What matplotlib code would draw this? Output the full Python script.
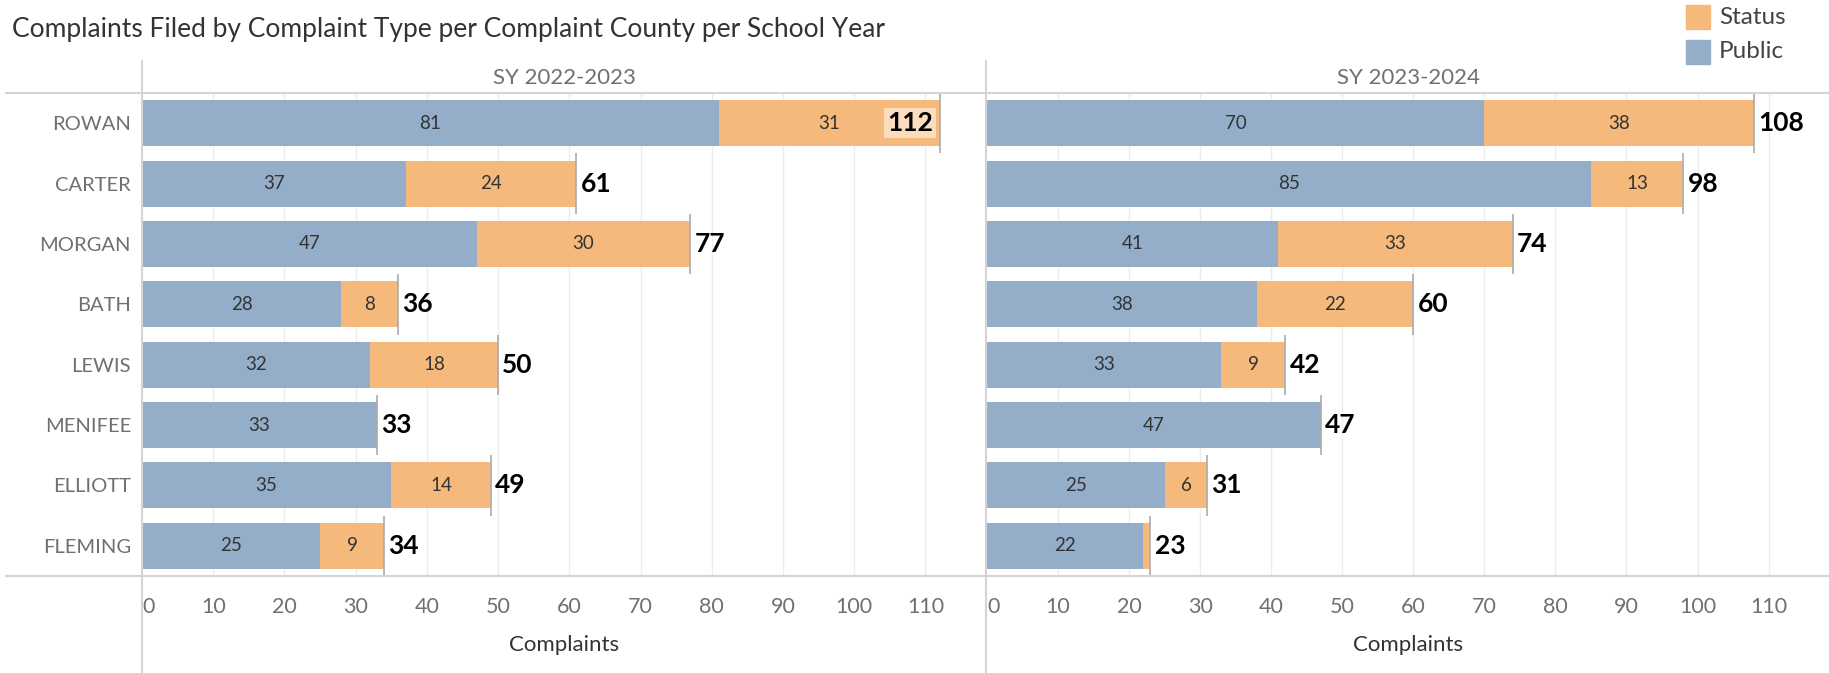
import matplotlib
matplotlib.use("Agg")
import matplotlib.pyplot as plt
import numpy as np
from matplotlib.lines import Line2D

plt.rcParams['font.family'] = ['Lato', 'DejaVu Sans']

# data
counties = ['ROWAN', 'CARTER', 'MORGAN', 'BATH', 'LEWIS', 'MENIFEE', 'ELLIOTT', 'FLEMING']
years = ['SY 2022-2023', 'SY 2023-2024']
public_2223 = [81, 37, 47, 28, 32, 33, 35, 25]
status_2223 = [31, 24, 30, 8, 18, 0, 14, 9]
public_2324 = [70, 85, 41, 38, 33, 47, 25, 22]
status_2324 = [38, 13, 33, 22, 9, 0, 6, 1]

blue = '#94aeca'
orange = '#f5b97b'
line_col = '#d4d4d4'
grid_col = '#ececec'
txt_gray = '#707070'

W, H = 1829, 673
fig = plt.figure(figsize=(W / 100, H / 100), dpi=100)

def fx(px):
    return px / W

def fy(py):
    return 1 - py / H

top, bottom = 93, 576
panels = [(142, 986), (987, 1829)]
xmax = 118.5
bar_h = 0.76

data = [(public_2223, status_2223), (public_2324, status_2324)]
y = np.arange(len(counties))

for k, ((x0, x1), (pub, sta)) in enumerate(zip(panels, data)):
    ax = fig.add_axes([fx(x0), fy(bottom), fx(x1 - x0), fy(top) - fy(bottom)])
    pub = np.array(pub)
    sta = np.array(sta)
    tot = pub + sta

    for g in range(10, 120, 10):
        ax.axvline(g, color=grid_col, lw=1, zorder=0)

    ax.barh(y, pub, height=bar_h, color=blue, zorder=2)
    ax.barh(y, sta, left=pub, height=bar_h, color=orange, zorder=2)
    ax.vlines(tot, y - 0.5, y + 0.5, color='#aaaaaa', lw=1.2, zorder=3)

    for i in range(len(counties)):
        ax.text(pub[i] / 2, y[i], str(pub[i]), ha='center', va='center',
                fontsize=13.5, color='#333333', zorder=4)
        if sta[i] >= 3:
            ax.text(pub[i] + sta[i] / 2, y[i], str(sta[i]), ha='center', va='center',
                    fontsize=13.5, color='#333333', zorder=4)
        if tot[i] > 110:
            ax.annotate(str(tot[i]), (tot[i], y[i]), xytext=(-5, 0), textcoords='offset points',
                        ha='right', va='center', fontsize=19, fontweight='bold', color='black',
                        bbox=dict(boxstyle='square,pad=0.12', fc='#fbdcbf', ec='none'), zorder=5)
        else:
            ax.annotate(str(tot[i]), (tot[i], y[i]), xytext=(3, 0), textcoords='offset points',
                        ha='left', va='center', fontsize=19, fontweight='bold', color='black', zorder=5)

    ax.set_xlim(0, xmax)
    ax.set_ylim(len(counties) - 0.5, -0.5)
    ax.set_xticks(range(0, 120, 10))
    ax.tick_params(axis='x', length=0, pad=15, labelsize=15.5, labelcolor=txt_gray)
    ax.get_xticklabels()[0].set_horizontalalignment('left')
    if k == 0:
        ax.set_yticks(y)
        ax.set_yticklabels(counties)
        ax.tick_params(axis='y', length=0, pad=8, labelsize=14.5, labelcolor=txt_gray)
    else:
        ax.set_yticks([])
    for s in ax.spines.values():
        s.set_visible(False)
    ax.set_xlabel('Complaints', fontsize=16, color='#333333', labelpad=13)

    fig.text(fx((x0 + x1) / 2), fy(78), years[k], ha='center', va='center',
             fontsize=16, color=txt_gray)

# frame lines
for yy in (top, bottom):
    fig.add_artist(Line2D([fx(6), 1], [fy(yy), fy(yy)], color=line_col, lw=1.5))
for xx in (142, 986):
    fig.add_artist(Line2D([fx(xx), fx(xx)], [fy(61), 0], color=line_col, lw=1.5))

fig.text(fx(12), fy(29), 'Complaints Filed by Complaint Type per Complaint County per School Year',
         ha='left', va='center', fontsize=19, color='#333333')

# legend
for lab, col, yy in (('Status', orange, 17), ('Public', blue, 52)):
    fig.add_artist(plt.Rectangle((fx(1686), fy(yy + 12)), fx(24), fy(0) - fy(24),
                                 transform=fig.transFigure, color=col))
    fig.text(fx(1719), fy(yy), lab, ha='left', va='center', fontsize=17.5, color='#444444')

fig.savefig('out.png', dpi=100)
